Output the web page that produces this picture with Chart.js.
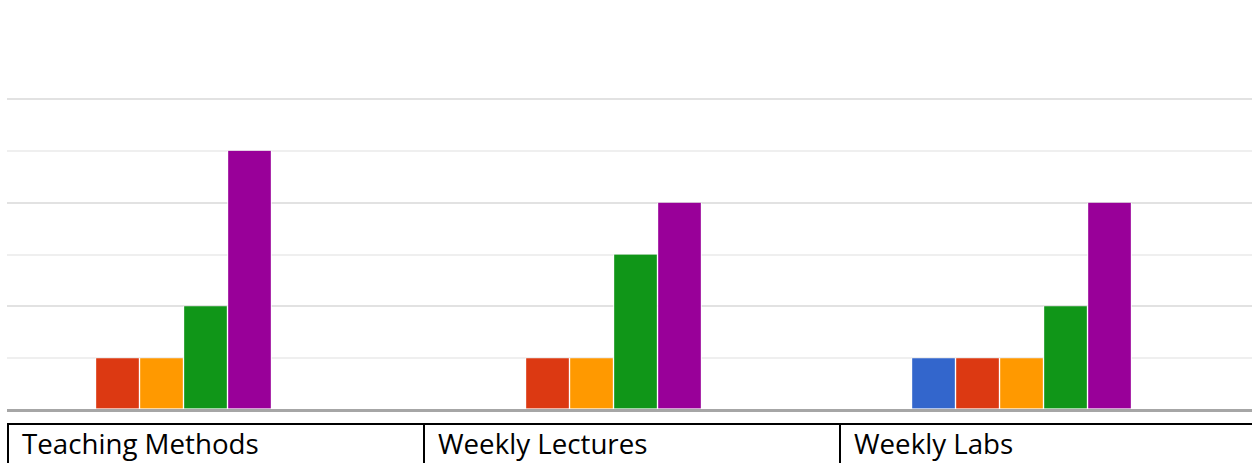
<!DOCTYPE html>
<html>
<head>
<meta charset="utf-8">
<script src="https://cdn.jsdelivr.net/npm/chart.js@4.4.1/dist/chart.umd.min.js"></script>
<style>
  html, body { margin: 0; padding: 0; background: #fff; overflow: hidden; }
  body { width: 1252px; height: 463px; position: relative; }
  #wrap { position: absolute; left: 0; top: 0; width: 1252px; height: 420px; }
  #labels {
    position: absolute; left: 7px; top: 423px;
    border-collapse: collapse; table-layout: fixed; width: 1250px;
    font-family: "Open Sans", "Noto Sans", sans-serif; font-size: 27.7px; color: #000;
  }
  #labels td {
    border: 2px solid #000; padding: 0 0 10px 13px; line-height: 37px;
    white-space: nowrap; overflow: hidden; vertical-align: top;
  }
</style>
</head>
<body>
<div id="wrap"><canvas id="c" width="1252" height="420"></canvas></div>
<table id="labels"><tr id="row"></tr></table>
<script>
const categories = ["Teaching Methods", "Weekly Lectures", "Weekly Labs"];
const seriesNames = ["Series 1", "Series 2", "Series 3", "Series 4", "Series 5"];
const series1 = [0, 0, 1];
const series2 = [1, 1, 1];
const series3 = [1, 1, 1];
const series4 = [2, 3, 2];
const series5 = [5, 4, 4];
const colors = ["#3366cc", "#dc3912", "#ff9900", "#109618", "#990099"];

const row = document.getElementById("row");
categories.forEach(c => { const td = document.createElement("td"); td.textContent = c; row.appendChild(td); });

const allSeries = [series1, series2, series3, series4, series5];
const datasets = allSeries.map((vals, s) => ({
  label: seriesNames[s],
  data: vals.map((v, i) => ({ x: i, y: v })),
  backgroundColor: colors[s],
  borderColor: "#ffffff",
  borderWidth: { left: 1, right: 1, top: 0, bottom: 0 },
  borderSkipped: false,
  barThickness: 44
}));

new Chart(document.getElementById("c"), {
  type: "bar",
  data: { datasets },
  options: {
    responsive: false,
    animation: false,
    layout: { padding: { left: 7, right: 0, top: 99, bottom: 10 } },
    plugins: { legend: { display: false }, tooltip: { enabled: false } },
    scales: {
      x: {
        type: "linear",
        display: false,
        offset: false,
        min: -0.3593,
        max: 2.536
      },
      y: {
        min: 0, max: 6,
        ticks: { display: false, stepSize: 1 },
        border: { display: false },
        grid: {
          drawTicks: false,
          lineWidth: ctx => ctx.tick && ctx.tick.value === 0 ? 3 : 2,
          color: ctx => {
            if (!ctx.tick) return "#e6e6e6";
            if (ctx.tick.value === 0) return "#a6a6a6";
            return ctx.tick.value % 2 === 0 ? "#e2e2e2" : "#efefef";
          }
        }
      }
    }
  }
});
</script>
</body>
</html>
